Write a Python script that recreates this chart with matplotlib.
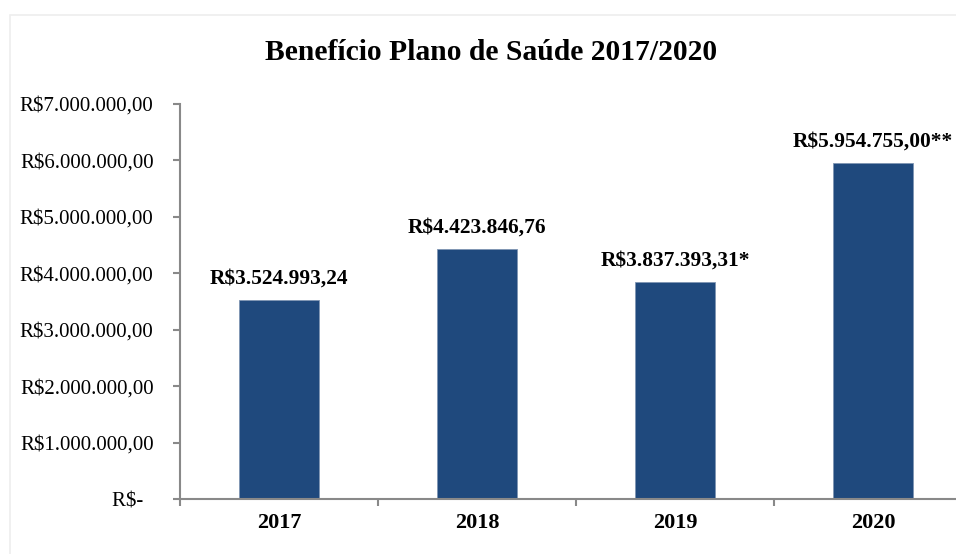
import matplotlib
matplotlib.use('Agg')
import matplotlib.pyplot as plt
from matplotlib.patches import Rectangle

plt.rcParams['font.family'] = ['Liberation Serif', 'DejaVu Serif']

anos = ['2017', '2018', '2019', '2020']
valores = [3524993.24, 4423846.76, 3837393.31, 5954755.00]
rotulos = ['R$3.524.993,24', 'R$4.423.846,76', 'R$3.837.393,31*', 'R$5.954.755,00**']
yticks = [0, 1e6, 2e6, 3e6, 4e6, 5e6, 6e6, 7e6]
ytick_labels = ['R$-  ', 'R$1.000.000,00', 'R$2.000.000,00', 'R$3.000.000,00',
                'R$4.000.000,00', 'R$5.000.000,00', 'R$6.000.000,00', 'R$7.000.000,00']

W, H = 956, 554
fig = plt.figure(figsize=(W/100, H/100), dpi=100)
fig.patches.append(Rectangle((10/W, -0.1), 1.2, 1.1 - 15/H, transform=fig.transFigure,
                             fill=False, edgecolor='#EEEEEE', linewidth=1.2))

ax = fig.add_axes([180/W, 55/H, 792/W, 395/H])
x = range(len(anos))
ax.bar(x, valores, width=0.4, color='#1F497D', edgecolor='#7F95B3', linewidth=0.6)

for i, v in enumerate(valores):
    ax.annotate(rotulos[i], (i, v), xytext=(0, 8.5), textcoords='offset points',
                ha='center', va='bottom', fontsize=15.4, fontweight='bold')

ax.set_xlim(-0.5, 3.5)
ax.set_ylim(0, 7e6)
ax.set_yticks(yticks)
ax.set_yticklabels(ytick_labels, fontsize=15)
ax.set_xticks([-0.5, 0.5, 1.5, 2.5, 3.5])
ax.set_xticklabels([])
ax.set_xticks(list(x), minor=True)
ax.set_xticklabels(anos, minor=True, fontsize=16, fontweight='bold')
ax.tick_params(axis='x', which='minor', length=0, pad=10)
ax.tick_params(axis='x', which='major', length=5, width=1.5, color='#898989')
ax.tick_params(axis='y', length=5, width=1.5, color='#898989', pad=14)

for s in ['top', 'right']:
    ax.spines[s].set_visible(False)
for s in ['left', 'bottom']:
    ax.spines[s].set_color('#898989')
    ax.spines[s].set_linewidth(1.5)

fig.text(491/W, 1 - 53/H, 'Benefício Plano de Saúde 2017/2020', ha='center', va='center',
         fontsize=21.3, fontweight='bold')

fig.savefig('out.png', dpi=100)
